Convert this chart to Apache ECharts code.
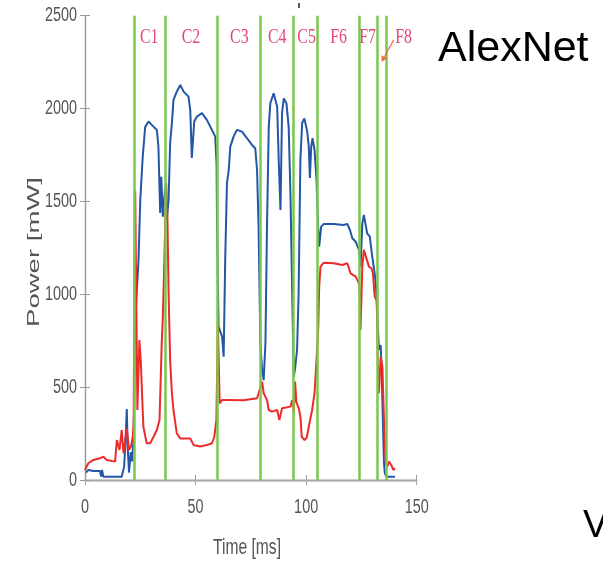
<!DOCTYPE html>
<html>
<head>
<meta charset="utf-8">
<script src="https://cdn.jsdelivr.net/npm/echarts@6/dist/echarts.min.js"></script>
<style>
  html, body { margin: 0; padding: 0; background: #fff; }
  #c { width: 603px; height: 563px; }
</style>
</head>
<body>
<div id="c"></div>
<script>
// Axis ticks
const xTicks = [0, 50, 100, 150];
const yTicks = [0, 500, 1000, 1500, 2000, 2500];

// Total power trace (blue), time in ms, power in mW
const blueTime = [0.5, 1.5, 3.8, 6.8, 7.3, 7.7, 8.3, 12.8, 16.6, 17.7, 18.4, 18.9, 19.3, 19.9, 20.7, 21.3, 21.9, 22.3, 22.7, 23.0, 24.2, 25.0, 26.1, 27.2, 28.7, 30.2, 32.5, 33.2, 34.0, 34.5, 35.2, 36.3, 37.0, 37.8, 38.5, 39.3, 40.0, 41.5, 43.1, 44.6, 46.8, 47.6, 48.3, 49.4, 50.6, 52.9, 55.1, 57.4, 58.9, 59.5, 59.7, 60.4, 62.0, 62.7, 63.4, 64.2, 65.0, 65.7, 67.2, 68.7, 71.0, 73.3, 75.5, 77.0, 77.8, 78.5, 79.3, 80.1, 80.8, 81.6, 82.3, 83.1, 83.8, 85.3, 86.9, 87.6, 88.4, 89.1, 89.9, 91.1, 92.1, 92.9, 93.7, 94.4, 95.0, 95.9, 96.6, 97.4, 98.2, 99.2, 100.5, 101.2, 101.7, 102.3, 102.9, 103.8, 104.7, 105.3, 105.9, 106.8, 108.0, 112.5, 117.0, 118.6, 119.8, 120.9, 122.4, 123.9, 124.6, 125.4, 126.1, 126.9, 127.6, 128.8, 129.9, 131.0, 131.7, 132.2, 132.9, 133.7, 134.1, 134.7, 135.2, 135.6, 136.3, 140.2];
const bluePower = [40, 54, 48, 48, 18, 54, 18, 18, 18, 72, 233, 382, 180, 40, 150, 100, 215, 450, 862, 862, 1185, 1508, 1740, 1900, 1930, 1912, 1885, 1795, 1438, 1633, 1418, 1580, 1400, 1508, 1815, 1922, 2046, 2091, 2127, 2091, 2064, 1992, 1734, 1930, 1957, 1975, 1939, 1885, 1849, 1700, 1383, 826, 772, 664, 1185, 1598, 1669, 1795, 1849, 1885, 1876, 1840, 1804, 1786, 1669, 1364, 737, 592, 538, 737, 1364, 1903, 2028, 2082, 2010, 1723, 1454, 1975, 2055, 2028, 1903, 1545, 1006, 556, 600, 700, 1006, 1723, 1922, 1947, 1876, 1795, 1626, 1795, 1840, 1777, 1616, 1400, 1256, 1364, 1379, 1379, 1373, 1379, 1346, 1302, 1283, 1239, 1149, 1382, 1427, 1418, 1328, 1310, 1202, 1113, 1023, 897, 700, 727, 610, 323, 90, 36, 18, 18];

// Second power trace (red)
const redTime = [0.0, 1.5, 3.8, 6.8, 8.3, 9.8, 13.6, 14.4, 15.6, 16.6, 17.4, 18.9, 19.9, 20.8, 21.6, 22.0, 22.4, 22.7, 23.7, 24.6, 25.2, 26.4, 27.9, 29.5, 31.0, 32.5, 33.7, 34.7, 35.2, 35.9, 36.7, 37.3, 37.8, 38.5, 39.3, 40.0, 41.5, 43.1, 47.6, 49.1, 52.1, 55.1, 57.4, 58.5, 59.4, 60.1, 60.9, 62.0, 64.2, 71.7, 77.8, 79.0, 80.1, 80.8, 82.3, 83.1, 84.6, 86.9, 87.9, 89.1, 92.9, 93.7, 94.4, 95.0, 95.6, 96.8, 97.5, 98.0, 99.3, 100.3, 101.2, 102.7, 103.8, 104.7, 105.5, 105.9, 106.5, 108.0, 112.5, 116.3, 118.6, 120.1, 122.4, 123.9, 124.3, 124.6, 125.4, 126.1, 126.9, 128.4, 129.5, 130.2, 131.0, 131.9, 132.6, 132.9, 133.7, 134.5, 135.2, 136.0, 136.7, 137.5, 138.5, 139.4, 140.2];
const redPower = [54, 90, 108, 117, 126, 108, 99, 215, 162, 269, 144, 278, 162, 180, 233, 300, 1200, 1556, 377, 754, 646, 287, 198, 198, 233, 269, 323, 736, 880, 1185, 1598, 1400, 1006, 646, 467, 377, 251, 224, 224, 188, 180, 188, 198, 233, 323, 844, 413, 431, 431, 430, 440, 485, 529, 467, 431, 377, 368, 377, 323, 386, 395, 431, 359, 530, 420, 380, 330, 233, 215, 230, 287, 377, 467, 646, 826, 1041, 1149, 1170, 1167, 1158, 1167, 1113, 1095, 1059, 1000, 808, 1149, 1239, 1239, 1149, 1140, 1113, 987, 969, 538, 467, 664, 610, 323, 90, 72, 99, 81, 54, 63];

// Layer boundaries (ms) and layer names
const layerBounds = [22.1, 36.1, 59.7, 79.2, 94.1, 105.1, 124.2, 132.3, 136.4];
const layerNames = ['C1', 'C2', 'C3', 'C4', 'C5', 'F6', 'F7', 'F8'];
const layerLabelTime = [29.0, 47.9, 69.8, 86.9, 100.2, 114.7, 127.8, 144.1];
const layerLabelPower = 2386;
// Pointer from the F8 label to its narrow slot
const f8ArrowFrom = [139.6, 2370];
const f8ArrowTo = [134.1, 2251];

const zip = (xs, ys) => xs.map((x, i) => [x, ys[i]]);
const tickFont = "20px 'Liberation Sans', 'DejaVu Sans', sans-serif";

const chart = echarts.init(document.getElementById('c'), null, { renderer: 'canvas' });

const baseX = {
  type: 'value', min: xTicks[0], max: xTicks[xTicks.length - 1], interval: 50,
  splitLine: { show: false }, axisLabel: { show: false }
};
const baseY = {
  type: 'value', min: yTicks[0], max: yTicks[yTicks.length - 1], interval: 500,
  splitLine: { show: false }, axisLabel: { show: false }
};

chart.setOption({
  animation: false,
  backgroundColor: '#fff',
  grid: { left: 85, top: 15.7, right: 186.3, bottom: 83, containLabel: false },
  xAxis: [
    Object.assign({}, baseX, {
      position: 'bottom',
      axisLine: { lineStyle: { color: '#6e6e6e', width: 1.3 } },
      axisTick: { inside: true, length: 5, lineStyle: { color: '#999' } }
    }),
    Object.assign({}, baseX, {
      position: 'top',
      axisLine: { lineStyle: { color: '#aaa', width: 1.3 } },
      axisTick: { inside: true, length: 5, lineStyle: { color: '#aaa' } }
    })
  ],
  yAxis: [
    Object.assign({}, baseY, {
      position: 'left',
      axisLine: { show: true, lineStyle: { color: '#c4c4c4', width: 1.3 } },
      axisTick: { show: true, inside: true, length: 5, lineStyle: { color: '#999' } }
    }),
    Object.assign({}, baseY, {
      position: 'right',
      axisLine: { show: true, lineStyle: { color: '#999', width: 1.3 } },
      axisTick: { show: true, inside: true, length: 5, lineStyle: { color: '#999' } }
    })
  ],
  series: [
    {
      name: 'blue', type: 'line', data: zip(blueTime, bluePower),
      showSymbol: false, symbol: 'none', z: 2,
      lineStyle: { color: '#2455a6', width: 2 }
    },
    {
      name: 'red', type: 'line', data: zip(redTime, redPower),
      showSymbol: false, symbol: 'none', z: 3,
      lineStyle: { color: '#ee2a2a', width: 2 }
    },
    {
      name: 'bounds', type: 'line', data: [], z: 4,
      markLine: {
        silent: true, symbol: ['none', 'none'], animation: false,
        label: { show: false },
        lineStyle: { color: '#78c84c', width: 2.5, type: 'solid' },
        data: layerBounds.map(t => ({ xAxis: t }))
      }
    }
  ]
});

// Annotations placed through the grid's coordinate system
const px = (pt) => chart.convertToPixel({ gridIndex: 0 }, pt);
const graphics = [];

// Condensed tick labels
yTicks.forEach(v => {
  const p = px([0, v]);
  graphics.push({
    type: 'text', x: 77, y: p[1], scaleX: 0.72, z: 10,
    style: { text: String(v), fill: '#555', font: tickFont, align: 'right', verticalAlign: 'middle' }
  });
});
xTicks.forEach(v => {
  const p = px([v, 0]);
  graphics.push({
    type: 'text', x: p[0], y: 507, scaleX: 0.72, z: 10,
    style: { text: String(v), fill: '#555', font: tickFont, align: 'center', verticalAlign: 'middle' }
  });
});

layerNames.forEach((name, i) => {
  const p = px([layerLabelTime[i], layerLabelPower]);
  graphics.push({
    type: 'text', x: p[0], y: p[1], scaleX: 0.72, z: 10,
    style: {
      text: name, fill: '#e2457a',
      font: "22px 'Liberation Serif', 'DejaVu Serif', serif",
      align: 'center', verticalAlign: 'middle'
    }
  });
});

const a0 = px(f8ArrowFrom), a1 = px(f8ArrowTo);
const ang = Math.atan2(a1[1] - a0[1], a1[0] - a0[0]);
const hl = 6, hw = 3.2;
const bx = a1[0] - hl * Math.cos(ang), by = a1[1] - hl * Math.sin(ang);
graphics.push({
  type: 'line', z: 10,
  shape: { x1: a0[0], y1: a0[1], x2: bx, y2: by },
  style: { stroke: '#f06a45', lineWidth: 1.2 }
});
graphics.push({
  type: 'polygon', z: 10,
  shape: { points: [
    [a1[0], a1[1]],
    [bx + hw * Math.sin(ang), by - hw * Math.cos(ang)],
    [bx - hw * Math.sin(ang), by + hw * Math.cos(ang)]
  ] },
  style: { fill: '#f06a45' }
});

// Small stray tick above the frame
graphics.push({
  type: 'line', z: 10,
  shape: { x1: 299, y1: 3, x2: 299, y2: 8 },
  style: { stroke: '#222', lineWidth: 1.5 }
});

// Axis titles
graphics.push({
  type: 'text', x: 34, y: 252, rotation: Math.PI / 2, scaleX: 1.62, z: 10,
  style: {
    text: 'Power [mW]', fill: '#555',
    font: "17px 'Liberation Sans', 'DejaVu Sans', sans-serif",
    align: 'center', verticalAlign: 'middle'
  }
});
graphics.push({
  type: 'text', x: 247, y: 548, scaleX: 0.71, z: 10,
  style: {
    text: 'Time [ms]', fill: '#555',
    font: "22px 'Liberation Sans', 'DejaVu Sans', sans-serif",
    align: 'center', verticalAlign: 'middle'
  }
});

// Network names
graphics.push({
  type: 'text', x: 438, y: 49, z: 10,
  style: {
    text: 'AlexNet', fill: '#000',
    font: "43px 'Liberation Sans', 'Open Sans', sans-serif",
    align: 'left', verticalAlign: 'middle'
  }
});
graphics.push({
  type: 'text', x: 583, y: 527, z: 10,
  style: {
    text: 'VGG', fill: '#000',
    font: "38px 'Liberation Sans', 'Open Sans', sans-serif",
    align: 'left', verticalAlign: 'middle'
  }
});

chart.setOption({ graphic: graphics });
</script>
</body>
</html>
